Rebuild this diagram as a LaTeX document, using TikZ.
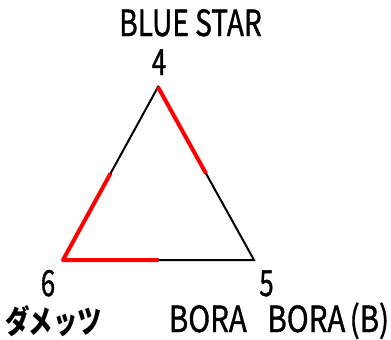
\documentclass[tikz,border=0pt]{standalone}
\usepackage{fontspec}
\setmainfont{Noto Sans CJK JP}
\newfontfamily\latfont[FakeBold=1.2]{Noto Sans CJK JP}
\usetikzlibrary{calc}
\begin{document}
\begin{tikzpicture}[x=1pt,y=-1pt,
  edge/.style={black,line width=2pt},
  hot/.style={red,line width=4pt},
  lbl/.style={inner sep=0pt,anchor=base,font=\fontsize{36}{36}\latfont},
  jp/.style={inner sep=0pt,anchor=base,font=\fontsize{32}{32}\selectfont\bfseries},
  num/.style={inner sep=0pt,anchor=base,font=\fontsize{36}{36}\latfont}]
\useasboundingbox (0,0) rectangle (391,340);
\coordinate (A) at (158,87);
\coordinate (B) at (63,260);
\coordinate (C) at (254,260);
\coordinate (AB) at ($(A)!0.5!(B)$);
\coordinate (BC) at ($(B)!0.5!(C)$);
\coordinate (AC) at ($(A)!0.5!(C)$);
\draw[edge,line join=miter] (A) -- (B) -- (C) -- cycle;
\draw[hot,line join=round] (AB) -- (B) -- (BC);
\draw[hot] (A) -- (AC);
\node[lbl] (t1) at (190.5,36) {\scalebox{0.78}[1]{BLUE STAR}};
\node[num] (n4) at (159,75) {\scalebox{0.72}[1]{4}};
\node[num] (n6) at (48,296) {\scalebox{0.72}[1]{6}};
\node[num] (n5) at (266.5,296) {\scalebox{0.72}[1]{5}};
\node[jp] (t6) at (53.5,333) {\scalebox{0.76}[1]{ダメッツ}};
\node[lbl] (t5) at (279,332) {\scalebox{0.82}[1]{BORA\hspace{0.7em}BORA\hspace{0.15em}(B)}};
\end{tikzpicture}
\end{document}
